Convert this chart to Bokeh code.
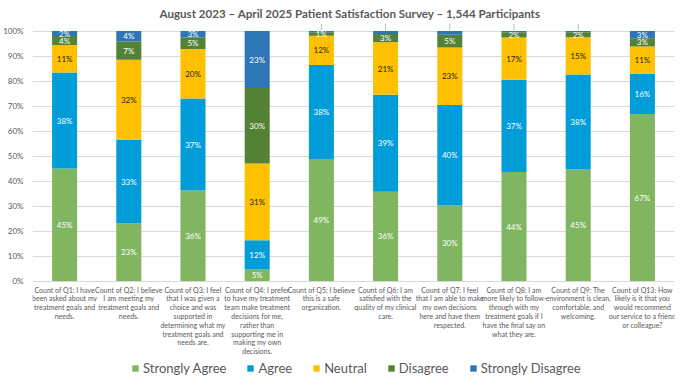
from bokeh.plotting import figure
from bokeh.models import ColumnDataSource, FactorRange, Range1d, FixedTicker, Legend, LegendItem, PrintfTickFormatter
from bokeh.core.properties import value
from bokeh.embed import file_html
from bokeh.resources import INLINE

title = "August 2023 \u2013 April 2025 Patient Satisfaction Survey \u2013 1,544 Participants"

questions = [
    "Count of Q1: I have\nbeen asked about my\ntreatment goals and\nneeds.",
    "Count of Q2: I believe\nI am meeting my\ntreatment goals and\nneeds.",
    "Count of Q3: I feel\nthat I was given a\nchoice and was\nsupported in\ndetermining what my\ntreatment goals and\nneeds are.",
    "Count of Q4: I prefer\nto have my treatment\nteam make treatment\ndecisions for me,\nrather than\nsupporting me in\nmaking my own\ndecisions.",
    "Count of Q5: I believe\nthis is a safe\norganization.",
    "Count of Q6: I am\nsatisfied with the\nquality of my clinical\ncare.",
    "Count of Q7: I feel\nthat I am able to make\nmy own decisions\nhere and have them\nrespected.",
    "Count of Q8: I am\nmore likely to follow-\nthrough with my\ntreatment goals if I\nhave the final say on\nwhat they are.",
    "Count of Q9: The\nenvironment is clean,\ncomfortable, and\nwelcoming.",
    "Count of Q13: How\nlikely is it that you\nwould recommend\nour service to a friend\nor colleague?",
]

series = ["Strongly Agree", "Agree", "Neutral", "Disagree", "Strongly Disagree"]
strongly_agree = [45.0, 23.1, 36.2, 4.6, 48.8, 35.7, 30.2, 43.6, 44.6, 66.8]
agree = [38.4, 33.4, 36.8, 11.7, 37.6, 38.8, 40.2, 36.9, 38.0, 16.1]
neutral = [11.0, 32.0, 19.8, 30.7, 11.7, 21.0, 23.0, 16.9, 14.9, 10.9]
disagree = [3.6, 7.3, 4.6, 30.2, 1.4, 3.3, 5.1, 2.1, 2.0, 3.3]
strongly_disagree = [2.0, 4.2, 2.6, 22.8, 0.5, 1.2, 1.5, 0.5, 0.5, 2.9]
y_ticks = [0, 10, 20, 30, 40, 50, 60, 70, 80, 90, 100]

colors = ["#7FB65F", "#009DD9", "#FFC000", "#548235", "#2E75B6"]
label_colors = ["white", "white", "#262626", "white", "white"]
FONT = "Lato"
GRAY = "#595959"

values = [strongly_agree, agree, neutral, disagree, strongly_disagree]
data = {"q": questions}
for s, v in zip(series, values):
    data[s] = v
source = ColumnDataSource(data)

p = figure(
    x_range=FactorRange(factors=questions),
    y_range=Range1d(-39, 103),
    width=676, height=378,
    output_backend="svg", toolbar_location=None,
    min_border_left=20, min_border_right=2, min_border_top=23, min_border_bottom=0,
)
p.outline_line_color = None
p.background_fill_color = "white"
p.border_fill_color = "white"

renderers = p.vbar_stack(series, x="q", width=0.39, color=colors, line_color=None, source=source)

# data labels
lx, ly, lt, lc = [], [], [], []
hx = []
for i, q in enumerate(questions):
    base = 0.0
    for k, v in enumerate(values):
        val = v[i]
        if k == 4 and val < 2:
            hx.append(q)
        else:
            lx.append(q)
            ly.append(base + val / 2)
            lt.append(f"{round(val)}%")
            lc.append(label_colors[k])
        base += val
lab = ColumnDataSource(dict(x=lx, y=ly, t=lt, c=lc))
p.text(x="x", y="y", text="t", text_color="c", source=lab, text_align="center",
       text_baseline="middle", text_font=value(FONT), text_font_size="8px")

# leader lines for labels placed outside
p.segment(x0=hx, y0=[100.3] * len(hx), x1=hx, y1=[103] * len(hx), line_color="#A6A6A6", line_width=0.8)

# category labels
p.text(x=questions, y=[-1.8] * len(questions), text=questions, text_align="center",
       text_baseline="top", text_font=value(FONT), text_font_size="7px",
       text_color=GRAY, text_line_height=1.1)

p.title.text = title
p.title.align = "left"
p.title.offset = 127
p.title.text_font = FONT
p.title.text_font_size = "11.6px"
p.title.text_font_style = "bold"
p.title.text_color = GRAY
p.title.standoff = 7

p.xgrid.grid_line_color = None
p.ygrid.grid_line_color = "#D9D9D9"
p.ygrid.ticker = FixedTicker(ticks=y_ticks)
p.xaxis.visible = False

p.yaxis.ticker = FixedTicker(ticks=y_ticks)
p.yaxis.formatter = PrintfTickFormatter(format="%d%%")
p.yaxis.axis_line_color = None
p.yaxis.major_tick_line_color = None
p.yaxis.minor_tick_line_color = None
p.yaxis.major_label_text_font = FONT
p.yaxis.major_label_text_font_size = "8px"
p.yaxis.major_label_text_color = GRAY
p.yaxis.major_label_standoff = 3

legend = Legend(
    items=[LegendItem(label=s, renderers=[r]) for s, r in zip(series, renderers)],
    orientation="horizontal", location=(99, 2),
    label_text_font=FONT, label_text_font_size="13px", label_text_color=GRAY,
    glyph_width=8, glyph_height=8, spacing=20, label_standoff=4,
    border_line_color=None, background_fill_alpha=0, padding=0, margin=0,
)
p.add_layout(legend, "center")

open("out.html", "w").write(file_html(p, INLINE))
